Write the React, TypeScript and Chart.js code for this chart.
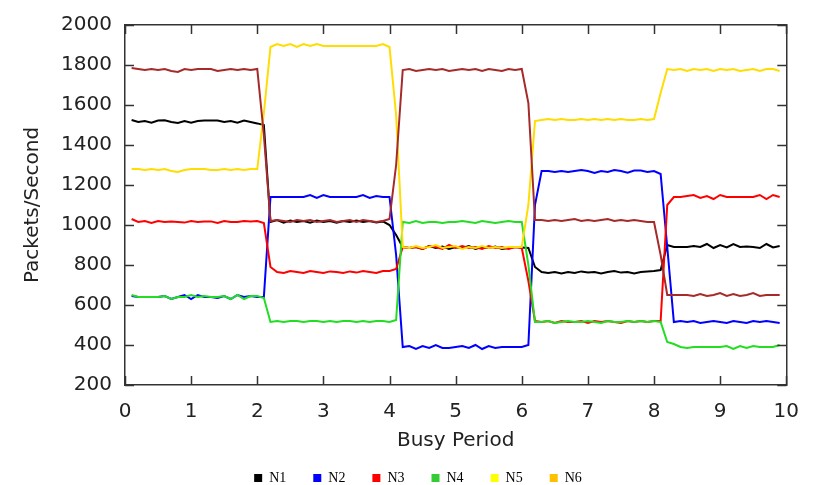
import React, { useEffect, useRef } from "react";
import { Chart, registerables } from "chart.js";

Chart.register(...registerables);

// Busy period (x) sample positions
const busyPeriod = [
  0.1, 0.2, 0.3, 0.4, 0.5, 0.6, 0.7, 0.8, 0.9, 1.0,
  1.1, 1.2, 1.3, 1.4, 1.5, 1.6, 1.7, 1.8, 1.9, 2.0,
  2.1, 2.2, 2.3, 2.4, 2.5, 2.6, 2.7, 2.8, 2.9, 3.0,
  3.1, 3.2, 3.3, 3.4, 3.5, 3.6, 3.7, 3.8, 3.9, 4.0,
  4.1, 4.2, 4.3, 4.4, 4.5, 4.6, 4.7, 4.8, 4.9, 5.0,
  5.1, 5.2, 5.3, 5.4, 5.5, 5.6, 5.7, 5.8, 5.9, 6.0,
  6.1, 6.2, 6.3, 6.4, 6.5, 6.6, 6.7, 6.8, 6.9, 7.0,
  7.1, 7.2, 7.3, 7.4, 7.5, 7.6, 7.7, 7.8, 7.9, 8.0,
  8.1, 8.2, 8.3, 8.4, 8.5, 8.6, 8.7, 8.8, 8.9, 9.0,
  9.1, 9.2, 9.3, 9.4, 9.5, 9.6, 9.7, 9.8, 9.9,
];

const n1 = [
  1525, 1515, 1520, 1512, 1522, 1524, 1515, 1510, 1520, 1512,
  1520, 1522, 1522, 1522, 1515, 1520, 1512, 1522, 1515, 1508,
  1500,
  1015, 1025, 1012, 1022, 1015, 1020, 1012, 1022, 1015, 1020,
  1012, 1020, 1015, 1022, 1015, 1020, 1012, 1018, 1000,
  950,
  890, 885, 890, 880, 895, 885, 892, 880, 890, 885,
  895, 880, 890, 885, 892, 880, 885, 890, 888,
  885,
  790, 765, 760, 765, 758, 765, 760, 768, 762, 765,
  758, 765, 770, 762, 765, 758, 765, 768, 770,
  775,
  900, 890, 890, 890, 895, 890, 905, 885, 900, 888,
  905, 890, 892, 890, 885, 905, 888, 895,
];

const n2 = [
  645, 640, 640, 640, 640, 645, 630, 640, 650, 630,
  650, 640, 640, 635, 645, 630, 650, 640, 645, 640,
  640,
  1140, 1140, 1140, 1140, 1140, 1140, 1150, 1135, 1150, 1140,
  1140, 1140, 1140, 1140, 1150, 1135, 1145, 1140, 1140,
  850,
  390, 395, 380, 395, 385, 400, 385, 385, 390, 395,
  385, 400, 380, 395, 385, 390, 390, 390, 390,
  400,
  1100, 1270, 1270, 1265, 1270, 1265, 1270, 1275, 1270, 1260,
  1270, 1265, 1275, 1270, 1262, 1272, 1272, 1265, 1270,
  1255,
  890, 515, 520, 515, 520, 510, 515, 520, 515, 510,
  520, 515, 510, 520, 515, 520, 515, 510,
];

const n3 = [
  1030, 1015, 1020, 1010, 1020, 1015, 1018, 1015, 1012, 1020,
  1015, 1018, 1018, 1010, 1020, 1015, 1015, 1020, 1018, 1020,
  1010,
  790, 765, 760, 770, 765, 760, 770, 765, 760, 768,
  765, 760, 768, 762, 770, 765, 760, 770, 770,
  780,
  890, 885, 890, 880, 895, 890, 880, 900, 885, 895,
  885, 890, 880, 895, 885, 890, 880, 890, 885,
  720,
  520, 515, 520, 510, 520, 515, 515, 520, 510, 520,
  515, 520, 515, 510, 520, 515, 520, 515, 520,
  520,
  1100, 1140, 1140, 1145, 1150, 1135, 1145, 1130, 1150, 1140,
  1140, 1140, 1140, 1140, 1150, 1130, 1150, 1140,
];

const n4 = [
  650, 640, 640, 640, 640, 645, 630, 640, 640, 650,
  640, 645, 640, 640, 645, 630, 650, 630, 645, 645,
  635,
  515, 520, 515, 520, 520, 515, 520, 520, 515, 520,
  515, 520, 520, 515, 520, 515, 520, 520, 515,
  525,
  1015, 1010, 1020, 1010, 1015, 1015, 1010, 1015, 1015, 1020,
  1015, 1010, 1020, 1015, 1010, 1015, 1020, 1015, 1015,
  800,
  515, 515, 520, 510, 515, 520, 515, 515, 520, 515,
  510, 520, 515, 515, 520, 515, 520, 515, 520,
  515,
  415, 405, 390, 385, 390, 390, 390, 390, 390, 395,
  380, 395, 385, 395, 390, 390, 390, 400,
];

const n5 = [
  1280, 1280, 1275, 1280, 1275, 1280, 1270, 1265, 1275, 1280,
  1280, 1280, 1275, 1275, 1280, 1275, 1280, 1275, 1280, 1280,
  1560,
  1890, 1905, 1895, 1905, 1890, 1905, 1895, 1905, 1895, 1895,
  1895, 1895, 1895, 1895, 1895, 1895, 1895, 1905, 1890,
  1550,
  890, 885, 895, 885, 890, 900, 885, 890, 895, 880,
  890, 885, 895, 885, 890, 885, 890, 890, 890,
  1100,
  1520, 1525, 1530, 1525, 1530, 1525, 1525, 1530, 1525, 1530,
  1525, 1530, 1525, 1530, 1525, 1525, 1530, 1525, 1530,
  1660,
  1780, 1775, 1780, 1770, 1780, 1775, 1780, 1770, 1780, 1775,
  1780, 1770, 1775, 1780, 1770, 1780, 1780, 1770,
];

const n6 = [
  1785, 1780, 1775, 1780, 1775, 1780, 1770, 1765, 1780, 1775,
  1780, 1780, 1780, 1770, 1775, 1780, 1775, 1780, 1775, 1780,
  1450,
  1020, 1025, 1020, 1015, 1025, 1020, 1025, 1015, 1020, 1025,
  1015, 1020, 1025, 1015, 1025, 1020, 1015, 1020, 1030,
  1300,
  1775, 1780, 1770, 1775, 1780, 1775, 1780, 1770, 1775, 1780,
  1775, 1780, 1770, 1780, 1775, 1770, 1780, 1775, 1780,
  1610,
  1025, 1025, 1020, 1025, 1020, 1025, 1030, 1020, 1025, 1020,
  1025, 1030, 1020, 1025, 1020, 1025, 1020, 1015, 1015,
  850,
  650, 650, 650, 650, 645, 655, 645, 650, 660, 645,
  655, 645, 650, 660, 645, 650, 650, 650,
];

const seriesNames = ["N1", "N2", "N3", "N4", "N5", "N6"];
const seriesValues = [n1, n2, n3, n4, n5, n6];
const lineColors = ["#000000", "#0000FF", "#FF0000", "#22DD22", "#FFDD00", "#A52A2A"];
const legendColors = ["#000000", "#0000FF", "#FF0000", "#33CC33", "#FFFF00", "#FFC000"];

const xTickValues = [0, 1, 2, 3, 4, 5, 6, 7, 8, 9, 10];
const yTickValues = [200, 400, 600, 800, 1000, 1200, 1400, 1600, 1800, 2000];

const FRAME = "#333333";

const tickMarksPlugin = {
  id: "tickMarks",
  afterDatasetsDraw(chart: any) {
    const ctx = chart.ctx;
    const area = chart.chartArea;
    const xs = chart.scales.x;
    const ys = chart.scales.y;
    const tl = 9;
    ctx.save();
    ctx.strokeStyle = FRAME;
    ctx.lineWidth = 1.5;
    ctx.beginPath();
    for (const v of xTickValues) {
      const px = Math.round(xs.getPixelForValue(v)) + 0.5;
      ctx.moveTo(px, area.bottom);
      ctx.lineTo(px, area.bottom - tl);
      ctx.moveTo(px, area.top);
      ctx.lineTo(px, area.top + tl);
    }
    for (const v of yTickValues) {
      const py = Math.round(ys.getPixelForValue(v)) + 0.5;
      ctx.moveTo(area.left, py);
      ctx.lineTo(area.left + tl, py);
      ctx.moveTo(area.right, py);
      ctx.lineTo(area.right - tl, py);
    }
    ctx.stroke();
    ctx.restore();
  },
};

const legendShiftPlugin = {
  id: "legendShift",
  afterLayout(chart: any) {
    const lg = chart.legend;
    if (!lg) return;
    const dy = 10;
    const dx = 19.5;
    lg.top += dy;
    lg.bottom += dy;
    lg.left += dx;
    lg.right += dx;
  },
};

export default function App() {
  const canvasRef = useRef<HTMLCanvasElement | null>(null);

  useEffect(() => {
    const canvas = canvasRef.current;
    if (!canvas) return;
    const datasets = seriesNames.map((name, i) => ({
      label: name,
      data: busyPeriod.map((x, j) => ({ x, y: seriesValues[i][j] })),
      borderColor: lineColors[i],
      backgroundColor: legendColors[i],
      borderWidth: 2,
      pointRadius: 0,
      tension: 0,
      fill: false,
      order: 6 - i,
    }));

    const font20 = { family: "'DejaVu Sans'", size: 20 };
    const frameBorder = { display: true, color: FRAME, width: 1.5 };

    const chart = new Chart(canvas, {
      type: "line",
      data: { datasets },
      plugins: [tickMarksPlugin, legendShiftPlugin],
      options: {
        animation: false,
        responsive: false,
        maintainAspectRatio: false,
        layout: { padding: { left: 0, right: 17, top: 22, bottom: 0 } },
        plugins: {
          tooltip: { enabled: false },
          legend: {
            display: true,
            position: "bottom",
            labels: {
              boxWidth: 8,
              boxHeight: 8,
              padding: 27,
              color: "#000000",
              font: { family: "'Liberation Serif', 'Times New Roman', serif", size: 14 },
              sort: (a: any, b: any) => a.datasetIndex - b.datasetIndex,
              generateLabels: (c: any) =>
                Chart.defaults.plugins.legend.labels
                  .generateLabels(c)
                  .map((it: any) => ({ ...it, lineWidth: 0, fillStyle: legendColors[it.datasetIndex] })),
            },
          },
        },
        scales: {
          x: {
            type: "linear",
            position: "bottom",
            min: 0,
            max: 10,
            afterFit: (s: any) => {
              s.height = 49;
            },
            grid: { display: false, drawTicks: false },
            border: frameBorder,
            ticks: {
              stepSize: 1,
              padding: 15,
              color: "#222222",
              font: font20,
              maxRotation: 0,
              callback: (v: any) => String(v),
            },
            title: {
              display: true,
              text: "Busy Period",
              color: "#222222",
              font: font20,
              padding: { top: 0, bottom: -19 },
            },
          },
          xTop: {
            type: "linear",
            position: "top",
            min: 0,
            max: 10,
            afterFit: (s: any) => {
              s.height = 0;
            },
            grid: { display: false, drawTicks: false },
            border: frameBorder,
            ticks: { display: false },
          },
          y: {
            type: "linear",
            position: "left",
            min: 200,
            max: 2000,
            afterFit: (s: any) => {
              s.width = 125;
            },
            grid: { display: false, drawTicks: false },
            border: frameBorder,
            ticks: {
              stepSize: 200,
              padding: 13,
              color: "#222222",
              font: font20,
              callback: (v: any) => String(v),
            },
            title: {
              display: true,
              text: "Packets/Second",
              color: "#222222",
              font: font20,
              padding: { top: 21, bottom: 0 },
            },
          },
          yRight: {
            type: "linear",
            position: "right",
            min: 200,
            max: 2000,
            afterFit: (s: any) => {
              s.width = 0;
            },
            grid: { display: false, drawTicks: false },
            border: frameBorder,
            ticks: { display: false },
          },
        },
      },
    });
    return () => chart.destroy();
  }, []);

  return (
    <div style={{ position: "fixed", left: 0, top: 0, width: 814, height: 485, background: "#ffffff" }}>
      <canvas ref={canvasRef} width={814} height={485} style={{ display: "block" }} />
    </div>
  );
}
